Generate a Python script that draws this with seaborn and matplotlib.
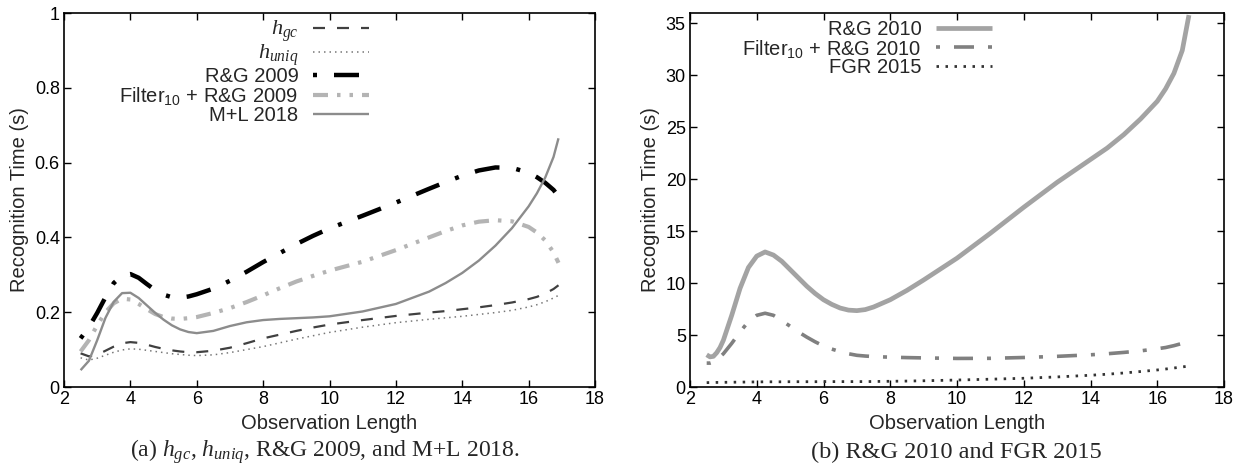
import numpy as np
import pandas as pd
import matplotlib
matplotlib.use("Agg")
import matplotlib.pyplot as plt
import seaborn as sns

# ---- left panel data: h_gc, h_uniq, R&G 2009, Filter10 + R&G 2009, M+L 2018
obs_left = [2.5, 2.75, 3.0, 3.25, 3.5, 3.75, 4.0, 4.25, 4.5, 4.75, 5.0, 5.25, 5.5, 5.75, 6.0,
            6.5, 7.0, 7.5, 8.0, 8.5, 9.0, 9.5, 10.0, 11.0, 12.0, 13.0, 13.5, 14.0, 14.5, 15.0,
            15.5, 16.0, 16.25, 16.5, 16.75, 16.9]
h_gc = [.090, .082, .086, .097, .108, .117, .120, .118, .113, .107, .102, .098, .095, .093, .093,
        .097, .105, .117, .130, .140, .150, .159, .167, .179, .190, .199, .203, .208, .213, .219,
        .226, .235, .241, .250, .262, .272]
h_uniq = [.078, .072, .077, .085, .093, .099, .102, .101, .098, .095, .092, .089, .087, .085, .084,
          .086, .092, .100, .108, .118, .128, .137, .146, .160, .172, .181, .185, .189, .194, .199,
          .205, .214, .220, .228, .238, .245]
rg_2009 = [.130, .160, .198, .240, .278, .298, .302, .292, .275, .259, .247, .240, .239, .242, .248,
           .263, .284, .308, .334, .358, .382, .404, .424, .458, .493, .530, .548, .565, .579, .587,
           .586, .573, .561, .546, .527, .510]
filter_rg_2009 = [.095, .125, .165, .200, .224, .236, .234, .222, .208, .195, .187, .183, .182,
                  .184, .187, .198, .211, .227, .245, .264, .282, .297, .311, .335, .366, .400,
                  .417, .432, .442, .446, .443, .428, .413, .392, .360, .332]
ml_2018 = [.045, .070, .125, .185, .228, .251, .252, .238, .218, .198, .180, .165, .154, .147, .144,
           .150, .163, .173, .179, .182, .184, .186, .189, .202, .222, .255, .278, .305, .338, .378,
           .425, .483, .518, .560, .615, .665]

# ---- right panel data: R&G 2010, Filter10 + R&G 2010, FGR 2015
obs_right = [2.5, 2.6, 2.7, 2.8, 2.9, 3.0, 3.25, 3.5, 3.75, 4.0, 4.25, 4.5, 4.75, 5.0, 5.25, 5.5,
             5.75, 6.0, 6.25, 6.5, 6.75, 7.0, 7.25, 7.5, 8.0, 8.5, 9.0, 10.0, 11.0, 12.0, 13.0,
             14.0, 14.5, 15.0, 15.5, 16.0, 16.25, 16.5, 16.75, 16.95]
rg_2010 = [3.1, 2.9, 2.95, 3.3, 3.8, 4.5, 6.9, 9.5, 11.5, 12.6, 13.0, 12.7, 12.1, 11.3, 10.5, 9.7,
           9.0, 8.4, 7.95, 7.6, 7.4, 7.35, 7.45, 7.7, 8.4, 9.3, 10.3, 12.4, 14.8, 17.3, 19.7,
           21.9, 23.0, 24.3, 25.8, 27.5, 28.7, 30.2, 32.4, 35.8]
filter_rg_2010 = [2.3, 2.3, 2.4, 2.6, 2.9, 3.2, 4.2, 5.3, 6.3, 6.9, 7.1, 6.9, 6.4, 5.85, 5.3, 4.8,
                  4.35, 3.95, 3.65, 3.4, 3.2, 3.05, 2.98, 2.93, 2.87, 2.83, 2.8, 2.75, 2.76, 2.84,
                  2.95, 3.1, 3.2, 3.33, 3.48, 3.68, 3.8, 3.98, 4.2, 4.4]
fgr_2015 = [.42, .43, .43, .44, .44, .45, .46, .47, .48, .49, .50, .50, .50, .51, .51, .51, .51,
            .52, .52, .52, .52, .52, .52, .53, .55, .57, .60, .67, .75, .84, .97, 1.13, 1.23,
            1.35, 1.49, 1.64, 1.73, 1.83, 1.93, 2.02]

x_ticks = [2, 4, 6, 8, 10, 12, 14, 16, 18]
left_yticks = [0, 0.2, 0.4, 0.6, 0.8, 1]
left_yticklabels = ["0", "0.2", "0.4", "0.6", "0.8", "1"]
right_yticks = [0, 5, 10, 15, 20, 25, 30, 35]

PX = 0.72  # pixel -> point at dpi 100

sns.set_theme(style="ticks")
plt.rcParams["font.family"] = ["Liberation Sans", "DejaVu Sans"]
plt.rcParams["mathtext.fontset"] = "custom"
plt.rcParams["mathtext.rm"] = "Liberation Sans"
plt.rcParams["mathtext.it"] = "Liberation Serif:italic"
plt.rcParams["lines.scale_dashes"] = False
plt.rcParams["lines.solid_capstyle"] = "butt"
plt.rcParams["lines.dash_capstyle"] = "butt"

fig = plt.figure(figsize=(12.54, 4.72), dpi=100)
ax_a = fig.add_axes([64 / 1254, 85 / 472, 531 / 1254, 374 / 472])
ax_b = fig.add_axes([690 / 1254, 85 / 472, 534 / 1254, 374 / 472])

left = pd.DataFrame({"obs": obs_left, "h_gc": h_gc, "h_uniq": h_uniq, "rg09": rg_2009,
                     "frg09": filter_rg_2009, "ml18": ml_2018})
right = pd.DataFrame({"obs": obs_right, "rg10": rg_2010, "frg10": filter_rg_2010,
                      "fgr15": fgr_2015})

left_styles = [
    ("h_gc", r"$h_{gc}$", "#404040", 1.6, (0, (12 * PX, 12 * PX))),
    ("h_uniq", r"$h_{uniq}$", "#777777", 1.1, (0, (1.5 * PX, 4 * PX))),
    ("rg09", "R&G 2009", "black", 3.2, (0, (4 * PX, 17 * PX, 25 * PX, 17 * PX))),
    ("frg09", r"Filter$_{\mathrm{10}}$ + R&G 2009", "#b4b4b4", 3.0,
     (0, (15 * PX, 9 * PX, 3.5 * PX, 9 * PX, 3.5 * PX, 9 * PX))),
    ("ml18", "M+L 2018", "#8c8c8c", 1.7, "-"),
]
for col, label, color, lw, ls in left_styles:
    sns.lineplot(data=left, x="obs", y=col, ax=ax_a, color=color, lw=lw, linestyle=ls,
                 label=label)

right_styles = [
    ("rg10", "R&G 2010", "#a3a3a3", 3.4, "-"),
    ("frg10", r"Filter$_{\mathrm{10}}$ + R&G 2010", "#808080", 2.6,
     (0, (4 * PX, 14 * PX, 20 * PX, 14 * PX))),
    ("fgr15", "FGR 2015", "#333333", 2.0, (0, (2.5 * PX, 6.5 * PX))),
]
for col, label, color, lw, ls in right_styles:
    sns.lineplot(data=right, x="obs", y=col, ax=ax_b, color=color, lw=lw, linestyle=ls,
                 label=label)

for ax in (ax_a, ax_b):
    ax.set_xlim(2, 18)
    ax.set_xticks(x_ticks)
    ax.set_xlabel("Observation Length", fontsize=14.5, labelpad=4)
    ax.set_ylabel("Recognition Time (s)", fontsize=14.5, labelpad=4)
    ax.tick_params(direction="in", length=5, width=1, top=True, right=True,
                   labelsize=13, pad=3, color="black", labelcolor="black")
    for sp in ax.spines.values():
        sp.set_visible(True)
        sp.set_linewidth(1.2)
        sp.set_color("black")

ax_a.set_ylim(0, 1)
ax_a.set_yticks(left_yticks)
ax_a.set_yticklabels(left_yticklabels)
ax_b.set_ylim(0, 36)
ax_b.set_yticks(right_yticks)

leg_kw = dict(loc="upper right", frameon=False, markerfirst=False, fontsize=14.5,
              handlelength=56 / 20, handletextpad=0.7, labelspacing=-0.06, borderpad=0,
              borderaxespad=0)
leg_a = ax_a.legend(bbox_to_anchor=((369 - 64) / 531, 0.985), **leg_kw)
for t in leg_a.get_texts()[:2]:
    t.set_fontsize(16)
ax_b.legend(bbox_to_anchor=((992 - 690) / 534, 0.982), **leg_kw)

fig.text(325 / 1254, 1 - 452 / 472, r"(a) $h_{gc}$, $h_{uniq}$, R&G 2009, and M+L 2018.",
         ha="center", va="center", fontsize=17, family="Liberation Serif")
fig.text(956 / 1254, 1 - 452 / 472, "(b) R&G 2010 and FGR 2015",
         ha="center", va="center", fontsize=17.5, family="Liberation Serif")

fig.savefig("out.png", dpi=100)
